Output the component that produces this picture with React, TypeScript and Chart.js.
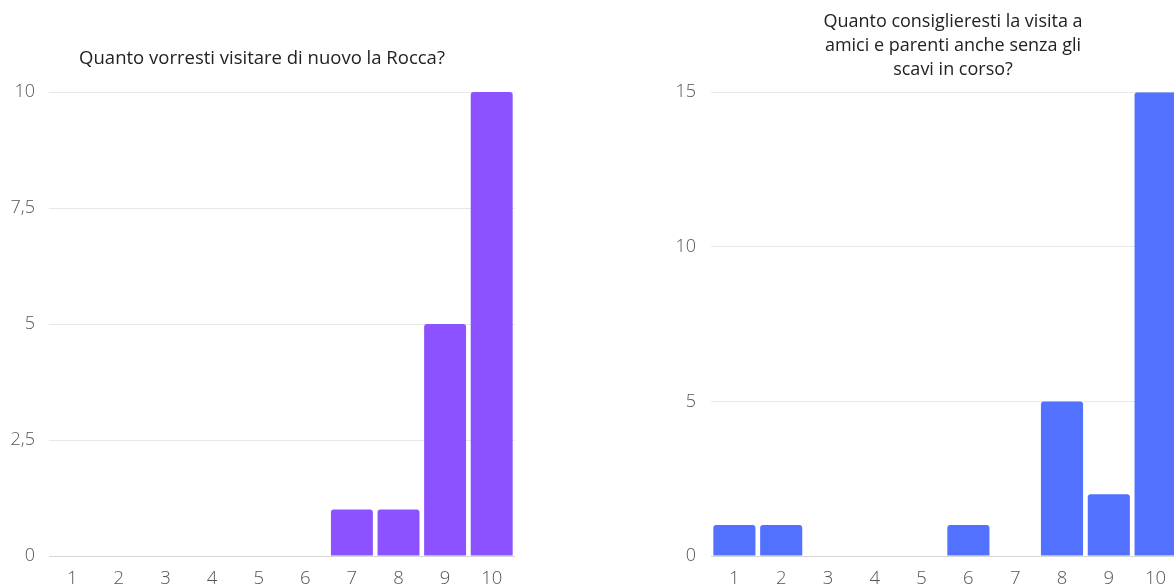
import React, { useEffect, useRef } from "react";
import { Chart, registerables } from "chart.js";

Chart.register(...registerables);

// Survey scores 1–10 and how many answers each score received
const scoreLabels = ["1", "2", "3", "4", "5", "6", "7", "8", "9", "10"];

const revisitTitle = ["Quanto vorresti visitare di nuovo la Rocca?"];
const revisitCounts = [0, 0, 0, 0, 0, 0, 1, 1, 5, 10];
const revisitMax = 10;
const revisitStep = 2.5;

const recommendTitle = [
  "Quanto consiglieresti la visita a",
  "amici e parenti anche senza gli",
  "scavi in corso?",
];
const recommendCounts = [1, 1, 0, 0, 0, 1, 0, 5, 2, 15];
const recommendMax = 15;
const recommendStep = 5;

type PanelProps = {
  title: string[];
  titleSize: number;
  titleLineHeight: number;
  counts: number[];
  max: number;
  step: number;
  color: string;
  left: number;
  width: number;
  yAxisWidth: number;
  tickGap: number;
  rightPad: number;
  titlePadTop: number;
  titlePadBottom: number;
};

function BarPanel(p: PanelProps) {
  const ref = useRef<HTMLCanvasElement | null>(null);

  useEffect(() => {
    if (!ref.current) return;
    const chart = new Chart(ref.current, {
      type: "bar",
      data: {
        labels: scoreLabels,
        datasets: [
          {
            data: p.counts,
            backgroundColor: p.color,
            borderWidth: 0,
            borderRadius: 3,
            barPercentage: 0.9,
            categoryPercentage: 1,
          },
        ],
      },
      options: {
        responsive: false,
        animation: false,
        locale: "it-IT",
        layout: { padding: 0 },
        plugins: {
          legend: { display: false },
          tooltip: { enabled: false },
          title: {
            display: true,
            text: p.title,
            color: "#222222",
            font: {
              family: "Open Sans",
              size: p.titleSize,
              weight: "normal",
              lineHeight: p.titleLineHeight,
            },
            padding: { top: p.titlePadTop, bottom: p.titlePadBottom },
          },
        },
        scales: {
          x: {
            grid: { display: false, drawTicks: false },
            border: { display: false },
            ticks: {
              color: "#555555",
              padding: 12,
              font: { family: "Open Sans", size: 18.5, weight: 300 },
            },
            afterFit: (s: any) => {
              s.height = 30;
            },
          },
          y: {
            min: 0,
            max: p.max,
            border: { display: false },
            grid: {
              drawTicks: false,
              color: (ctx: any) => (ctx.tick && ctx.tick.value === 0 ? "#d6d6d6" : "#e8e8e8"),
            },
            ticks: {
              stepSize: p.step,
              color: "#555555",
              padding: p.tickGap,
              font: { family: "Open Sans", size: 18, weight: 300 },
            },
            afterFit: (s: any) => {
              s.width = p.yAxisWidth;
            },
          },
          pad: {
            type: "linear",
            position: "right",
            display: true,
            grid: { display: false, drawTicks: false },
            border: { display: false },
            ticks: { display: false },
            afterFit: (s: any) => {
              s.width = p.rightPad;
            },
          },
        },
      },
    } as any);
    return () => chart.destroy();
  }, []);

  return (
    <canvas
      ref={ref}
      width={p.width}
      height={586}
      style={{ position: "absolute", left: p.left, top: 0, width: p.width, height: 586 }}
    />
  );
}

export default function App() {
  return (
    <div
      style={{
        position: "absolute",
        left: 0,
        top: 0,
        width: 1174,
        height: 586,
        overflow: "hidden",
        background: "#ffffff",
      }}
    >
      <BarPanel
        title={revisitTitle}
        titleSize={18.5}
        titleLineHeight={1.3}
        counts={revisitCounts}
        max={revisitMax}
        step={revisitStep}
        color="#8c52ff"
        left={8}
        width={508}
        yAxisWidth={41}
        tickGap={14}
        rightPad={1}
        titlePadTop={47}
        titlePadBottom={21}
      />
      <BarPanel
        title={recommendTitle}
        titleSize={18}
        titleLineHeight={1.34}
        counts={recommendCounts}
        max={recommendMax}
        step={recommendStep}
        color="#5271ff"
        left={665}
        width={576}
        yAxisWidth={46}
        tickGap={15}
        rightPad={62}
        titlePadTop={10}
        titlePadBottom={10}
      />
    </div>
  );
}
